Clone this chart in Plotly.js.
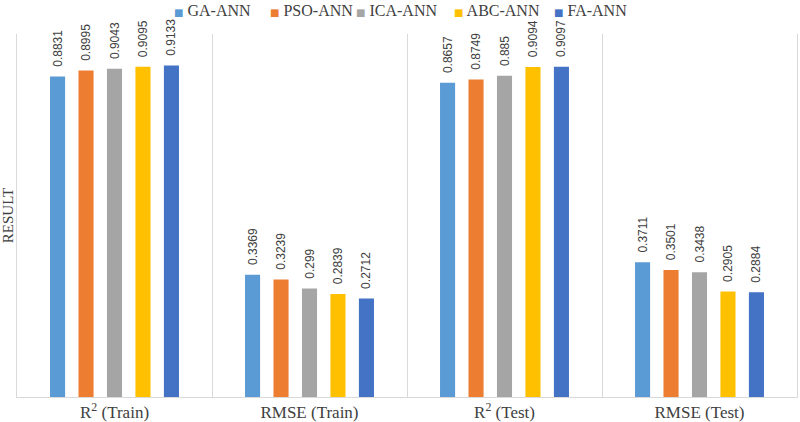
<!DOCTYPE html>
<html>
<head>
<meta charset="utf-8">
<script src="https://cdn.plot.ly/plotly-3.0.1.min.js"></script>
<style>html,body{margin:0;padding:0;background:#fff;}#chart{width:800px;height:422px;}</style>
</head>
<body>
<div id="chart"></div>
<script>
const categories = ["R<sup>2</sup> (Train)", "RMSE (Train)", "R<sup>2</sup> (Test)", "RMSE (Test)"];
const seriesNames = ["GA-ANN", "PSO-ANN", "ICA-ANN", "ABC-ANN", "FA-ANN"];
const gaAnn  = [0.8831, 0.3369, 0.8657, 0.3711];
const psoAnn = [0.8995, 0.3239, 0.8749, 0.3501];
const icaAnn = [0.9043, 0.299, 0.885, 0.3438];
const abcAnn = [0.9095, 0.2839, 0.9094, 0.2905];
const faAnn  = [0.9133, 0.2712, 0.9097, 0.2884];
const colors = ["#5B9BD5", "#ED7D31", "#A5A5A5", "#FFC000", "#4472C4"];
const legendWidths = [51, 41, 53, 55, 80];

const serif = 'Liberation Serif';
const values = [gaAnn, psoAnn, icaAnn, abcAnn, faAnn];
const data = values.map((v, i) => ({
  type: 'bar',
  name: seriesNames[i],
  x: categories,
  y: v,
  text: v.map(x => '\u00a0\u00a0' + x),
  textposition: 'outside',
  textangle: -90,
  constraintext: 'none',
  cliponaxis: false,
  textfont: {family: 'Liberation Sans', size: 12, color: '#404040'},
  marker: {color: colors[i]},
  showlegend: false,
  hoverinfo: 'none'
}));
// legend entries: small coloured square glyph + name, like the reference
seriesNames.forEach((n, i) => data.push({
  type: 'scatter', mode: 'markers',
  name: '<span style="font-family:DejaVu Sans;font-size:10px;color:' + colors[i] + '">■</span> ' + n,
  x: [null], y: [null],
  marker: {symbol: 'square', size: 1, color: 'rgba(0,0,0,0)', line: {width: 0}},
  legendwidth: legendWidths[i],
  showlegend: true, hoverinfo: 'none'
}));

const layout = {
  width: 800, height: 422,
  margin: {l: 17, r: 3, t: 34, b: 25},
  paper_bgcolor: '#fff', plot_bgcolor: '#fff',
  barmode: 'group',
  bargap: 0.27,
  bargroupgap: 0.47,
  showlegend: true,
  legend: {
    orientation: 'h', xref: 'container', x: 0.1675, xanchor: 'left',
    yref: 'container', y: 0.976, yanchor: 'middle',
    bgcolor: 'rgba(0,0,0,0)',
    font: {family: serif, size: 16, color: '#404040'},
    itemwidth: 30, tracegroupgap: 0
  },
  xaxis: {
    type: 'category',
    tickson: 'boundaries',
    showgrid: true, gridcolor: '#d9d9d9', gridwidth: 1,
    showline: true, linecolor: '#d9d9d9', linewidth: 1,
    ticks: '', ticklen: 0,
    tickfont: {family: serif, size: 17, color: '#404040'},
    fixedrange: true
  },
  yaxis: {
    range: [0, 1],
    showgrid: false, zeroline: false,
    showticklabels: false, ticks: '',
    showline: true, mirror: true, linecolor: '#d9d9d9', linewidth: 1,
    title: {text: 'RESULT', standoff: 0, font: {family: serif, size: 15, color: '#404040'}},
    fixedrange: true
  }
};

Plotly.newPlot('chart', data, layout, {staticPlot: true});
</script>
</body>
</html>
